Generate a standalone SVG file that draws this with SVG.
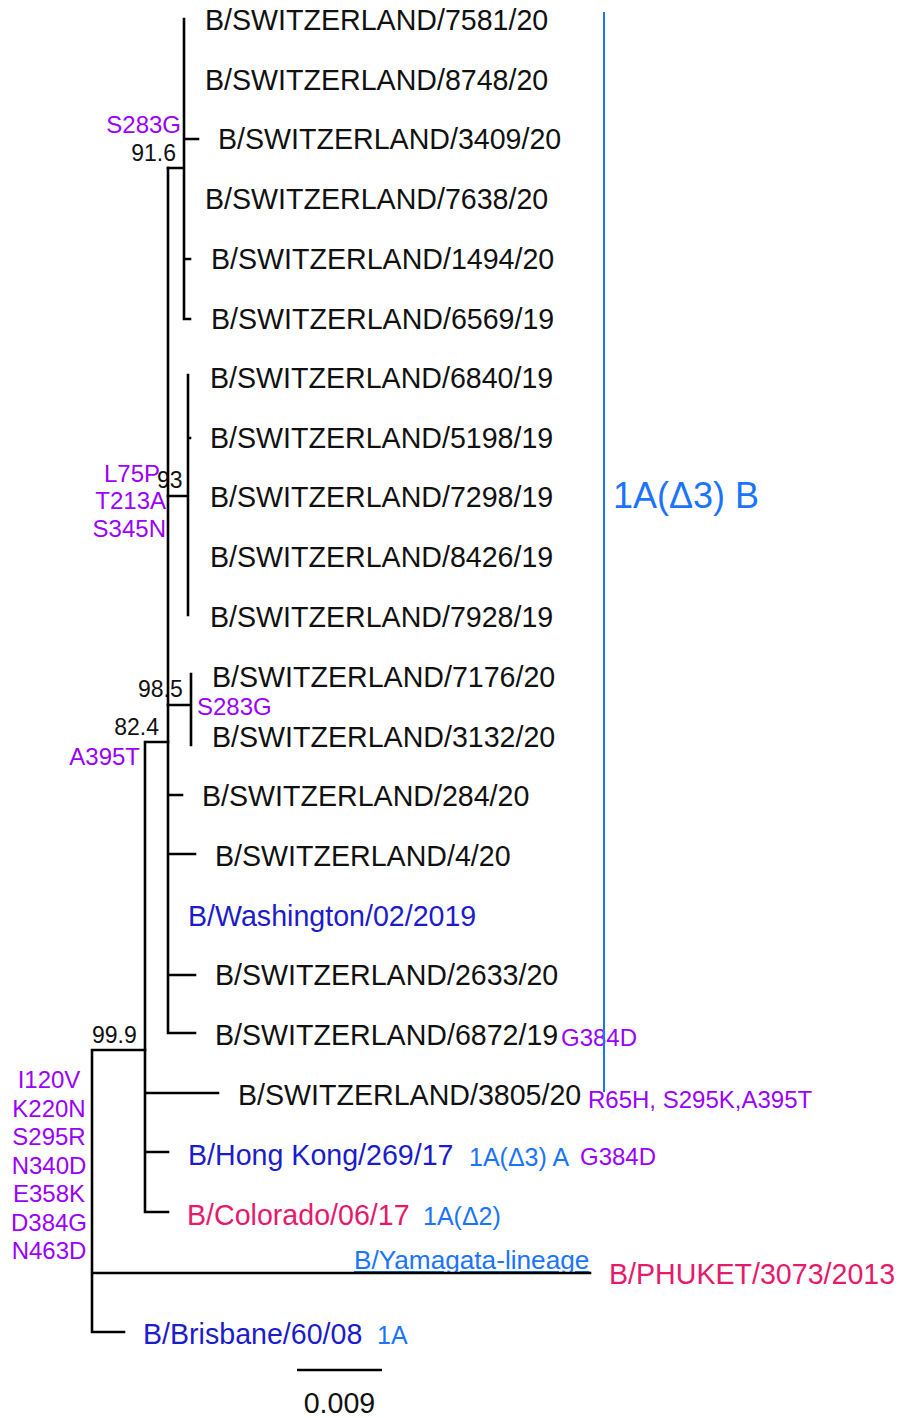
<svg xmlns="http://www.w3.org/2000/svg" width="899" height="1418" viewBox="0 0 899 1418">
<style>
text{font-family:"Liberation Sans",Arial,sans-serif}
.leaf{font-size:28.6px;fill:#111}
.dblue{fill:#1c1ccc}
.pink{fill:#e61a6c}
.lblue{fill:#1a74ff}
.mut{font-size:24px;fill:#9a00ff}
.bs{font-size:23px;fill:#111}
.ann{font-size:25px;fill:#1a74ff}
.br{stroke:#000;stroke-width:2.6;fill:none;stroke-linecap:square}
</style>
<rect width="899" height="1418" fill="#fff"/>
<g id="labels">
<g id="n7581"><text class="leaf" x="205" y="30">B/SWITZERLAND/7581/20</text></g>
<g id="n8748"><text class="leaf" x="205" y="90">B/SWITZERLAND/8748/20</text></g>
<g id="n3409"><text class="leaf" x="218" y="149">B/SWITZERLAND/3409/20</text></g>
<g id="n7638"><text class="leaf" x="205" y="209">B/SWITZERLAND/7638/20</text></g>
<g id="n1494"><text class="leaf" x="211" y="269">B/SWITZERLAND/1494/20</text></g>
<g id="n6569"><text class="leaf" x="211" y="329">B/SWITZERLAND/6569/19</text></g>
<g id="n6840"><text class="leaf" x="210" y="388">B/SWITZERLAND/6840/19</text></g>
<g id="n5198"><text class="leaf" x="210" y="448">B/SWITZERLAND/5198/19</text></g>
<g id="n7298"><text class="leaf" x="210" y="507">B/SWITZERLAND/7298/19</text></g>
<g id="n8426"><text class="leaf" x="210" y="567">B/SWITZERLAND/8426/19</text></g>
<g id="n7928"><text class="leaf" x="210" y="627">B/SWITZERLAND/7928/19</text></g>
<g id="n7176"><text class="leaf" x="212" y="687">B/SWITZERLAND/7176/20</text></g>
<g id="n3132"><text class="leaf" x="212" y="747">B/SWITZERLAND/3132/20</text></g>
<g id="n284"><text class="leaf" x="202" y="806">B/SWITZERLAND/284/20</text></g>
<g id="n4"><text class="leaf" x="215" y="866">B/SWITZERLAND/4/20</text></g>
<g id="nWash"><text class="leaf dblue" x="188" y="926">B/Washington/02/2019</text></g>
<g id="n2633"><text class="leaf" x="215" y="985">B/SWITZERLAND/2633/20</text></g>
<g id="n6872"><text class="leaf" x="215" y="1045">B/SWITZERLAND/6872/19</text><text class="mut" x="561" y="1046">G384D</text></g>
<g id="n3805"><text class="leaf" x="238" y="1105">B/SWITZERLAND/3805/20</text><text class="mut" x="588" y="1108">R65H, S295K,A395T</text></g>
<g id="nHK"><text class="leaf dblue" x="188" y="1165">B/Hong Kong/269/17</text><text class="ann" x="469" y="1166">1A(Δ3) A</text><text class="mut" x="580" y="1165">G384D</text></g>
<g id="nCol"><text class="leaf pink" x="187" y="1225">B/Colorado/06/17</text><text class="ann" x="423" y="1225">1A(Δ2)</text></g>
<g id="nPhuket"><text class="leaf pink" x="609" y="1284">B/PHUKET/3073/2013</text><text class="lblue" x="354" y="1269" font-size="26.2" text-decoration="underline">B/Yamagata-lineage</text></g>
<g id="nBris"><text class="leaf dblue" x="143" y="1344">B/Brisbane/60/08</text><text class="ann" x="377" y="1344">1A</text></g>
</g>
<g id="node-labels">
<text class="mut" x="181" y="133" text-anchor="end">S283G</text>
<text class="bs" x="176" y="161" text-anchor="end">91.6</text>
<text class="bs" x="157" y="488">93</text>
<text class="mut" x="160" y="482" text-anchor="end">L75P</text>
<text class="mut" x="166" y="509" text-anchor="end">T213A</text>
<text class="mut" x="166" y="537" text-anchor="end">S345N</text>
<text class="bs" x="138" y="697">98.5</text>
<text class="mut" x="197" y="715">S283G</text>
<text class="bs" x="159" y="735" text-anchor="end">82.4</text>
<text class="mut" x="140" y="765" text-anchor="end">A395T</text>
<text class="bs" x="92" y="1043">99.9</text>
<g class="mut" text-anchor="middle">
<text x="49" y="1088">I120V</text>
<text x="49" y="1116.5">K220N</text>
<text x="49" y="1145">S295R</text>
<text x="49" y="1173.5">N340D</text>
<text x="49" y="1202">E358K</text>
<text x="49" y="1230.5">D384G</text>
<text x="49" y="1259">N463D</text>
</g>
</g>
<g id="clade-bar">
<line x1="604" y1="12" x2="604" y2="1092" stroke="#1a74ff" stroke-width="2"/>
<text x="613" y="508" font-size="36" fill="#1a74ff">1A(Δ3) B</text>
</g>
<g id="connectors" class="br">
<path d="M184 19V319H190M184 139H198M184 259H190M168 168H184"/>
<path d="M188 375V615M188 438H190M168 496H188"/>
<path d="M191 674V745M168 705H191"/>
<path d="M168 168V1033H195M168 795H182M168 854H195M168 975H195"/>
<path d="M145 742H168M145 742V1212H168M145 1093H218M145 1152H168"/>
<path d="M92 1050H145M92 1050V1332H124M92 1273H590"/>
</g>
<g id="scale">
<line x1="297" y1="1370" x2="382" y2="1370" stroke="#000" stroke-width="2.6"/>
<text class="leaf" x="339.5" y="1413" text-anchor="middle">0.009</text>
</g>
</svg>
